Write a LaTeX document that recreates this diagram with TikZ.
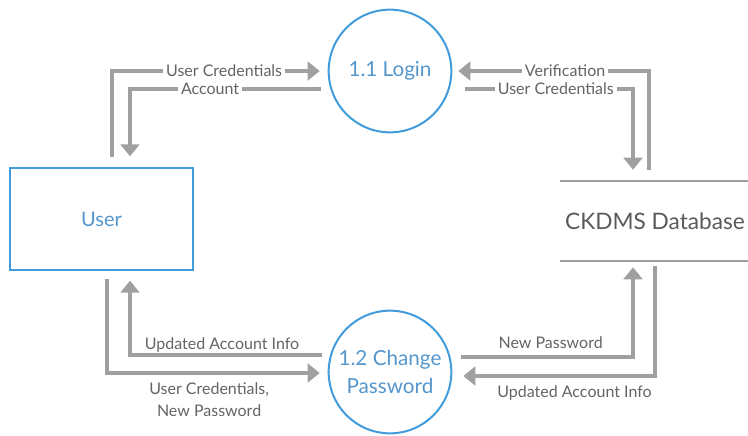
\documentclass[tikz,border=0pt]{standalone}
\usepackage{fontspec}
\setmainfont{Lato}
\usetikzlibrary{arrows.meta,calc}

\definecolor{dfdblue}{RGB}{66,156,220}
\definecolor{dfdtext}{RGB}{84,150,204}
\definecolor{dfdgray}{RGB}{160,160,160}
\definecolor{dfdlabel}{RGB}{100,100,100}

\tikzset{
  process/.style={circle,draw=dfdblue,line width=1.5pt,minimum size=92pt,inner sep=0pt,
    text=dfdtext,font=\fontsize{15.5}{21}\selectfont,align=center},
  entity/.style={rectangle,draw=dfdblue,line width=1.5pt,minimum width=137pt,minimum height=76pt,
    text=dfdtext,font=\fontsize{15}{18}\selectfont},
  store/.style={minimum width=139.5pt,minimum height=60pt,text=dfdlabel!90!black,
    font=\fontsize{17}{20}\selectfont},
  flow/.style={draw=dfdgray,line width=2.3pt,-{Triangle[length=9pt,width=14pt]}},
  lbl/.style={fill=white,text=dfdlabel,font=\fontsize{12}{16.5}\selectfont,inner sep=2pt},
  lblfree/.style={text=dfdlabel,font=\fontsize{12}{16.5}\selectfont,align=center,inner sep=2pt}
}

\begin{document}
\begin{tikzpicture}[x=0.75pt,y=-0.75pt]
\useasboundingbox (0,0) rectangle (748,435);

% Processes, entity and data store
\node[process] (login) at (390,71) {1.1 Login};
\node[process] (chpw) at (390,372) {1.2 Change\\Password};
\node[entity] (user) at (101.5,219) {User};
\node[store] (db) at (655,221) {CKDMS Database};
\draw[dfdgray,line width=1.3pt] (db.north west) -- (db.north east);
\draw[dfdgray,line width=1.3pt] (db.south west) -- (db.south east);

% User <-> Login
\draw[flow] ($(user.north)+(10.5,-10)$) |- node[lbl,pos=0.77] {User Credentials} ($(login.west)+(-8,0)$);
\draw[flow] ($(login.west)+(-7,18)$) -| node[lbl,pos=0.29] {Account} ($(user.north)+(28.5,-11)$);

% Login <-> Database
\draw[flow] ($(db.north)+(-6,-11)$) |- node[lbl,pos=0.72] {Verification} ($(login.east)+(6,0)$);
\draw[flow] ($(login.east)+(13,18)$) -| node[lbl,pos=0.27] {User Credentials} ($(db.north)+(-22,-11)$);

% Change Password <-> Database
\draw[flow] ($(chpw.east)+(9,-15)$) -| node[lblfree,pos=0.26,above,yshift=3pt] {New Password} ($(db.south)+(-22,6)$);
\draw[flow] ($(db.south)+(0,5)$) |- node[lblfree,pos=0.71,below,yshift=-4.5pt] {Updated Account Info} ($(chpw.east)+(11,4)$);

% User <-> Change Password
\draw[flow] ($(chpw.west)+(-6,-17)$) -| node[lblfree,pos=0.26,above,yshift=-1pt] {Updated Account Info} ($(user.south)+(28.5,10)$);
\draw[flow] ($(user.south)+(5.5,8)$) |- node[lblfree,pos=0.74,below,yshift=-4.5pt] {User Credentials,\\New Password} ($(chpw.west)+(-8,1)$);
\end{tikzpicture}
\end{document}
